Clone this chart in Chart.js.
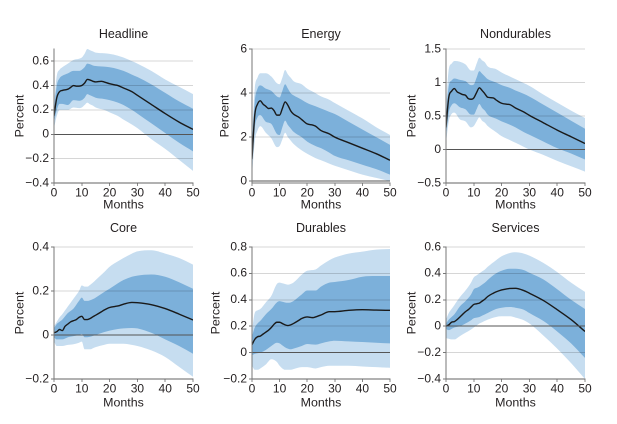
<!DOCTYPE html>
<html>
<head>
<meta charset="utf-8">
<script src="https://cdn.jsdelivr.net/npm/chart.js@4.4.0/dist/chart.umd.min.js"></script>
<style>
  body { margin: 0; background: #fff; }
  #wrap { position: relative; width: 617px; height: 424px; }
  #wrap div { position: absolute; }
</style>
</head>
<body>
<div id="wrap"></div>
<script>
// months for the centre line and for the bands
const months = [0,1,2,3,4,5,6,7,8,9,10,11,12,13,14,15,17,18,20,22,23,25,28,30,35,40,45,50];
const bandMonths = [0,1,2,3,5,7,9,10,11,12,13,14,15,18,20,23,25,28,30,35,40,45,50];

// Headline
const headlineLine = [0.15,0.30,0.35,0.36,0.365,0.37,0.385,0.40,0.395,0.395,0.40,0.42,0.45,0.445,0.435,0.43,0.435,0.43,0.415,0.405,0.40,0.38,0.35,0.32,0.245,0.17,0.10,0.04];
const headlineOuterHi = [0.25,0.48,0.53,0.55,0.58,0.61,0.62,0.63,0.66,0.70,0.69,0.68,0.67,0.665,0.66,0.645,0.63,0.60,0.58,0.52,0.45,0.39,0.33];
const headlineInnerHi = [0.20,0.40,0.46,0.48,0.50,0.52,0.52,0.53,0.55,0.58,0.575,0.565,0.56,0.555,0.55,0.535,0.52,0.49,0.47,0.41,0.34,0.27,0.21];
const headlineInnerLo = [0.10,0.20,0.25,0.25,0.24,0.28,0.275,0.28,0.30,0.33,0.32,0.31,0.30,0.29,0.28,0.26,0.24,0.20,0.17,0.09,0.01,-0.07,-0.14];
const headlineOuterLo = [0.05,0.15,0.20,0.20,0.20,0.22,0.215,0.22,0.24,0.26,0.245,0.235,0.22,0.20,0.18,0.15,0.12,0.08,0.05,-0.04,-0.12,-0.21,-0.30];

// Energy
const energyLine = [1.0,3.0,3.5,3.65,3.5,3.4,3.3,3.32,3.2,3.0,3.0,3.3,3.6,3.45,3.2,3.05,2.9,2.8,2.6,2.55,2.5,2.3,2.15,2.0,1.75,1.5,1.25,0.95];
const energyOuterHi = [2.0,4.2,4.7,4.9,4.9,4.75,4.45,4.4,4.7,5.05,4.85,4.7,4.55,4.4,4.2,4.0,3.85,3.7,3.55,3.2,2.85,2.45,2.1];
const energyInnerHi = [1.6,3.6,4.2,4.35,4.2,4.1,3.85,3.8,4.1,4.4,4.2,4.0,3.9,3.7,3.55,3.4,3.3,3.15,3.05,2.7,2.35,2.0,1.65];
const energyInnerLo = [0.6,2.4,2.9,3.0,2.7,2.6,2.15,2.1,2.45,2.75,2.55,2.4,2.25,2.0,1.8,1.6,1.5,1.3,1.15,0.95,0.75,0.55,0.3];
const energyOuterLo = [0.2,1.8,2.3,2.5,2.2,1.95,1.55,1.6,1.9,2.2,2.0,1.85,1.7,1.4,1.25,1.05,0.95,0.8,0.7,0.5,0.3,0.15,0.0];

// Nondurables
const nondurLine = [0.33,0.78,0.87,0.91,0.86,0.84,0.82,0.81,0.76,0.75,0.77,0.85,0.92,0.88,0.83,0.78,0.77,0.74,0.69,0.675,0.67,0.62,0.56,0.51,0.40,0.29,0.19,0.09];
const nondurOuterHi = [0.6,1.2,1.28,1.32,1.31,1.27,1.18,1.18,1.28,1.37,1.33,1.3,1.24,1.2,1.15,1.09,1.05,0.99,0.95,0.82,0.70,0.58,0.47];
const nondurInnerHi = [0.5,0.95,1.03,1.06,1.04,1.02,0.96,0.97,1.07,1.17,1.13,1.09,1.05,1.0,0.96,0.92,0.88,0.83,0.79,0.67,0.55,0.43,0.31];
const nondurInnerLo = [0.2,0.55,0.66,0.69,0.63,0.60,0.52,0.52,0.60,0.68,0.62,0.58,0.52,0.46,0.42,0.37,0.33,0.26,0.22,0.12,0.02,-0.06,-0.15];
const nondurOuterLo = [0.1,0.42,0.53,0.55,0.45,0.42,0.33,0.35,0.42,0.48,0.43,0.40,0.35,0.26,0.2,0.14,0.10,0.04,0.0,-0.08,-0.17,-0.25,-0.33];

// Core
const coreLine = [0.01,0.015,0.025,0.02,0.04,0.05,0.06,0.065,0.07,0.08,0.085,0.07,0.07,0.075,0.083,0.09,0.105,0.113,0.125,0.13,0.132,0.14,0.148,0.147,0.138,0.12,0.095,0.068];
const coreOuterHi = [0.04,0.06,0.08,0.095,0.13,0.165,0.20,0.225,0.22,0.22,0.228,0.238,0.25,0.285,0.31,0.335,0.35,0.37,0.38,0.385,0.37,0.35,0.32];
const coreInnerHi = [0.03,0.05,0.06,0.07,0.10,0.12,0.155,0.17,0.155,0.155,0.158,0.163,0.17,0.195,0.21,0.235,0.25,0.265,0.27,0.275,0.265,0.24,0.21];
const coreInnerLo = [-0.01,-0.02,-0.02,-0.02,-0.01,-0.005,0.0,0.005,-0.01,-0.01,-0.008,-0.004,0.0,0.013,0.02,0.027,0.03,0.032,0.03,0.01,-0.02,-0.05,-0.085];
const coreOuterLo = [-0.03,-0.05,-0.05,-0.05,-0.045,-0.042,-0.035,-0.03,-0.065,-0.065,-0.065,-0.06,-0.055,-0.045,-0.04,-0.04,-0.04,-0.045,-0.05,-0.07,-0.1,-0.145,-0.19];

// Durables
const durLine = [0.06,0.10,0.12,0.125,0.14,0.155,0.17,0.19,0.215,0.23,0.23,0.22,0.21,0.205,0.21,0.22,0.245,0.258,0.27,0.265,0.27,0.285,0.31,0.31,0.32,0.325,0.322,0.32];
const durOuterHi = [0.16,0.30,0.32,0.33,0.38,0.43,0.52,0.53,0.525,0.52,0.515,0.52,0.53,0.59,0.62,0.63,0.66,0.70,0.72,0.75,0.765,0.78,0.785];
const durInnerHi = [0.12,0.19,0.22,0.24,0.29,0.33,0.38,0.39,0.385,0.38,0.378,0.38,0.39,0.44,0.47,0.47,0.50,0.53,0.535,0.55,0.575,0.58,0.58];
const durInnerLo = [-0.02,-0.01,-0.005,0.0,0.02,0.05,0.075,0.07,0.055,0.04,0.03,0.025,0.03,0.05,0.065,0.06,0.07,0.085,0.09,0.085,0.08,0.075,0.07];
const durOuterLo = [-0.10,-0.13,-0.13,-0.12,-0.09,-0.05,-0.07,-0.10,-0.12,-0.13,-0.13,-0.13,-0.125,-0.11,-0.11,-0.12,-0.11,-0.10,-0.10,-0.10,-0.105,-0.11,-0.115];

// Services
const servLine = [0.0,0.01,0.03,0.035,0.05,0.07,0.09,0.11,0.125,0.145,0.165,0.17,0.175,0.19,0.205,0.225,0.25,0.26,0.275,0.283,0.286,0.287,0.27,0.25,0.195,0.125,0.05,-0.04];
const servOuterHi = [0.05,0.10,0.13,0.16,0.22,0.27,0.33,0.37,0.385,0.40,0.415,0.43,0.45,0.50,0.53,0.555,0.56,0.55,0.535,0.48,0.41,0.33,0.26];
const servInnerHi = [0.02,0.05,0.07,0.09,0.15,0.19,0.24,0.28,0.29,0.30,0.315,0.33,0.35,0.40,0.42,0.435,0.435,0.425,0.405,0.355,0.28,0.20,0.13];
const servInnerLo = [-0.02,-0.03,-0.02,-0.01,0.0,0.02,0.045,0.06,0.065,0.07,0.08,0.09,0.10,0.13,0.14,0.145,0.14,0.125,0.10,0.04,-0.04,-0.13,-0.24];
const servOuterLo = [-0.09,-0.095,-0.10,-0.10,-0.075,-0.05,-0.025,-0.01,0.005,0.02,0.03,0.04,0.05,0.07,0.075,0.075,0.065,0.045,0.02,-0.07,-0.17,-0.28,-0.40];

const FONT = "'Liberation Sans', Arial, sans-serif";
const TEXT = '#231f20';
const LIGHT = '#c6ddf0';
const DARK = '#7cb0da';

let xy = (xs, ys) => ys.map((y, i) => ({ x: xs[i], y: y }));

let fmt = (v) => {
    let s = String(Math.round(Math.abs(v) * 100) / 100);
    return v < -1e-9 ? '\u2212' + s : s;
};

// panel title centred over the plot area, not the whole canvas
const panelTitle = {
    id: 'panelTitle',
    afterDraw(chart, args, opts) {
        let ctx = chart.ctx;
        let area = chart.chartArea;
        ctx.save();
        ctx.font = '12.5px ' + FONT;
        ctx.fillStyle = TEXT;
        ctx.textAlign = 'center';
        ctx.textBaseline = 'middle';
        ctx.fillText(opts.text, (area.left + area.right) / 2, area.top - opts.gap);
        ctx.restore();
    }
};

let makePanel = (p) => {
    let w = 54 + p.plotW + 14;
    let h = p.titleH + p.plotH + p.xH;
    let holder = document.createElement('div');
    holder.style.left = (p.plotLeft - 54) + 'px';
    holder.style.top = (p.plotTop - p.titleH) + 'px';
    holder.style.width = w + 'px';
    holder.style.height = h + 'px';
    let canvas = document.createElement('canvas');
    canvas.style.width = w + 'px';
    canvas.style.height = h + 'px';
    holder.appendChild(canvas);
    document.getElementById('wrap').appendChild(holder);

    let band = (data, color, fill, order) => ({
        data: xy(bandMonths, data),
        backgroundColor: color,
        borderWidth: 0,
        pointRadius: 0,
        fill: fill,
        order: order,
        cubicInterpolationMode: 'monotone'
    });

    return new Chart(canvas.getContext('2d'), {
        type: 'line',
        data: {
            datasets: [
                band(p.outerHi, LIGHT, '+1', 3),
                band(p.outerLo, LIGHT, false, 3),
                band(p.innerHi, DARK, '+1', 2),
                band(p.innerLo, DARK, false, 2),
                {
                    data: xy(months, p.line),
                    borderColor: '#1a1a1a',
                    borderWidth: 1.4,
                    pointRadius: 0,
                    fill: false,
                    order: 1,
                    cubicInterpolationMode: 'monotone'
                }
            ]
        },
        plugins: [panelTitle],
        options: {
            responsive: false,
            animation: false,
            devicePixelRatio: 2,
            layout: { padding: { left: 0, right: 14, top: p.titleH, bottom: 0 } },
            plugins: {
                legend: { display: false },
                tooltip: { enabled: false },
                panelTitle: { text: p.title, gap: p.titleGap }
            },
            scales: {
                x: {
                    type: 'linear',
                    min: 0,
                    max: 50,
                    afterFit: (s) => { s.height = p.xH; },
                    ticks: {
                        stepSize: 10,
                        padding: 0,
                        color: TEXT,
                        maxRotation: 0,
                        font: { family: FONT, size: 12 }
                    },
                    grid: { drawOnChartArea: false, tickLength: 3, color: '#888' },
                    border: { color: '#777' },
                    title: {
                        display: true,
                        text: 'Months',
                        color: TEXT,
                        font: { family: FONT, size: 12.4 },
                        padding: { top: 0, bottom: 0.6 }
                    }
                },
                y: {
                    min: p.min,
                    max: p.max,
                    afterFit: (s) => { s.width = 54; },
                    afterBuildTicks: (s) => {
                        s.ticks = s.ticks.filter(t => Math.abs(t.value / p.step - Math.round(t.value / p.step)) < 1e-6);
                    },
                    ticks: {
                        stepSize: p.step,
                        includeBounds: false,
                        padding: 2,
                        color: TEXT,
                        font: { family: FONT, size: 12 },
                        callback: (v) => fmt(v)
                    },
                    grid: {
                        z: 1,
                        tickLength: 3,
                        color: (c) => Math.abs(c.tick.value) < 1e-9 ? '#555' : 'rgba(0,0,0,0.16)',
                        tickColor: '#777'
                    },
                    border: { color: '#777', z: 2 },
                    title: {
                        display: true,
                        text: 'Percent',
                        color: TEXT,
                        font: { family: FONT, size: 12.4 },
                        padding: { top: 54 - p.yTitle - 7.44, bottom: 0 }
                    }
                }
            }
        }
    });
};

makePanel({ title: 'Headline', plotLeft: 54, plotW: 139, plotTop: 49, plotH: 134, titleH: 30, titleGap: 14.5, xH: 30, yTitle: 34,
    min: -0.4, max: 0.7, step: 0.2,
    line: headlineLine, outerHi: headlineOuterHi, innerHi: headlineInnerHi, innerLo: headlineInnerLo, outerLo: headlineOuterLo });
makePanel({ title: 'Energy', plotLeft: 252, plotW: 138, plotTop: 49, plotH: 134, titleH: 30, titleGap: 14.5, xH: 30, yTitle: 27,
    min: -0.08, max: 6, step: 2,
    line: energyLine, outerHi: energyOuterHi, innerHi: energyInnerHi, innerLo: energyInnerLo, outerLo: energyOuterLo });
makePanel({ title: 'Nondurables', plotLeft: 446, plotW: 139, plotTop: 49, plotH: 134, titleH: 30, titleGap: 14.5, xH: 30, yTitle: 34,
    min: -0.5, max: 1.5, step: 0.5,
    line: nondurLine, outerHi: nondurOuterHi, innerHi: nondurInnerHi, innerLo: nondurInnerLo, outerLo: nondurOuterLo });
makePanel({ title: 'Core', plotLeft: 54, plotW: 139, plotTop: 247, plotH: 132, titleH: 34, titleGap: 18.5, xH: 32, yTitle: 34,
    min: -0.2, max: 0.4, step: 0.2,
    line: coreLine, outerHi: coreOuterHi, innerHi: coreInnerHi, innerLo: coreInnerLo, outerLo: coreOuterLo });
makePanel({ title: 'Durables', plotLeft: 252, plotW: 138, plotTop: 247, plotH: 132, titleH: 34, titleGap: 18.5, xH: 32, yTitle: 36,
    min: -0.2, max: 0.8, step: 0.2,
    line: durLine, outerHi: durOuterHi, innerHi: durInnerHi, innerLo: durInnerLo, outerLo: durOuterLo });
makePanel({ title: 'Services', plotLeft: 446, plotW: 139, plotTop: 247, plotH: 132, titleH: 34, titleGap: 18.5, xH: 32, yTitle: 34,
    min: -0.4, max: 0.6, step: 0.2,
    line: servLine, outerHi: servOuterHi, innerHi: servInnerHi, innerLo: servInnerLo, outerLo: servOuterLo });
</script>
</body>
</html>
